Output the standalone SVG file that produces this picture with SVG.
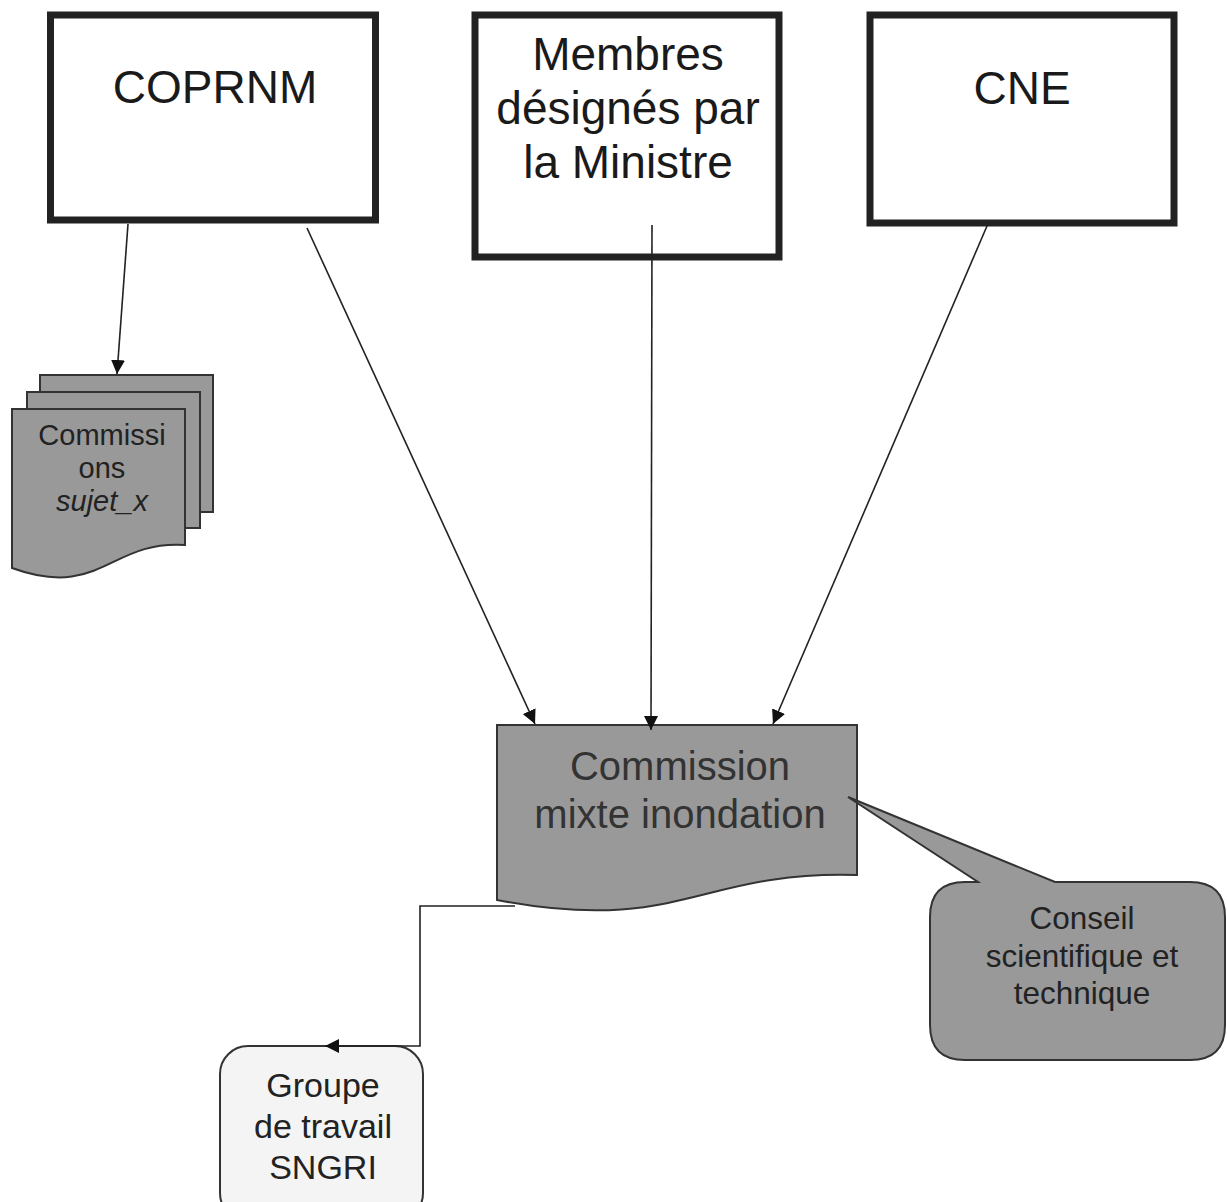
<svg xmlns="http://www.w3.org/2000/svg" width="1227" height="1202" viewBox="0 0 1227 1202">
  <defs>
    <marker id="arr" viewBox="0 0 10 10" refX="10" refY="5" markerWidth="14" markerHeight="14" markerUnits="userSpaceOnUse" orient="auto">
      <path d="M0,0 L10,5 L0,10 Z" fill="#111"/>
    </marker>
    <style>
      .box { fill: #ffffff; stroke: #222; stroke-width: 7; }
      .doc { fill: #999999; stroke: #333; stroke-width: 2; }
      .big { font-family: "Liberation Sans", Arial, sans-serif; font-size: 46px; fill: #1a1a1a; text-anchor: middle; }
      .mid { font-family: "Liberation Sans", Arial, sans-serif; font-size: 40px; fill: #333; text-anchor: middle; }
      .small { font-family: "Liberation Sans", Arial, sans-serif; font-size: 29px; fill: #222; text-anchor: middle; }
      .s31 { font-size: 31.5px; }
      .s33 { font-size: 34px; }
      .conn { fill: none; stroke: #222; stroke-width: 1.6; }
    </style>
  </defs>
  <rect width="1227" height="1202" fill="#ffffff"/>

  <g id="coprnm">
    <rect class="box" x="50.5" y="15" width="325" height="205"/>
    <text class="big" x="215" y="103">COPRNM</text>
  </g>

  <g id="membres">
    <rect class="box" x="475" y="15" width="304" height="242"/>
    <text class="big" x="628" y="70">Membres</text>
    <text class="big" x="628" y="124">désignés par</text>
    <text class="big" x="628" y="178">la Ministre</text>
  </g>

  <g id="cne">
    <rect class="box" x="870" y="15" width="304" height="208"/>
    <text class="big" x="1022" y="104">CNE</text>
  </g>

  <g id="commissions">
    <rect class="doc" x="40" y="375" width="173" height="137"/>
    <rect class="doc" x="27" y="392" width="173" height="136"/>
    <path class="doc" d="M12,409 L185,409 L185,545 C110,540 100,600 12,568 Z"/>
    <text class="small" x="102" y="445">Commissi</text>
    <text class="small" x="102" y="478">ons</text>
    <text class="small" x="102" y="511" font-style="italic">sujet_x</text>
  </g>

  <g id="commission-mixte">
    <path class="doc" d="M497,725 L857,725 L857,875 C700,870 680,935 497,900 Z"/>
    <text class="mid" x="680" y="780">Commission</text>
    <text class="mid" x="680" y="828">mixte inondation</text>
  </g>

  <g id="conseil">
    <path class="doc" d="M965,882 L978,882 L848,797 L1055,882 L1190,882 Q1225,882 1225,917 L1225,1025 Q1225,1060 1190,1060 L965,1060 Q930,1060 930,1025 L930,917 Q930,882 965,882 Z"/>
    <text class="small s31" x="1082" y="929">Conseil</text>
    <text class="small s31" x="1082" y="967">scientifique et</text>
    <text class="small s31" x="1082" y="1004">technique</text>
  </g>

  <g id="groupe">
    <rect x="220" y="1046" width="203" height="175" rx="28" ry="28" fill="#f4f4f4" stroke="#333" stroke-width="2"/>
    <text class="small s33" x="323" y="1097">Groupe</text>
    <text class="small s33" x="323" y="1138">de travail</text>
    <text class="small s33" x="323" y="1179">SNGRI</text>
  </g>

  <g id="connectors">
    <line class="conn" x1="128" y1="224" x2="117" y2="374" marker-end="url(#arr)"/>
    <line class="conn" x1="307" y1="228" x2="535" y2="724" marker-end="url(#arr)"/>
    <line class="conn" x1="652" y1="225" x2="651" y2="730" marker-end="url(#arr)"/>
    <line class="conn" x1="987" y1="226" x2="773" y2="724" marker-end="url(#arr)"/>
    <polyline class="conn" points="515,906 420,906 420,1046 325,1046" marker-end="url(#arr)"/>
  </g>
</svg>
